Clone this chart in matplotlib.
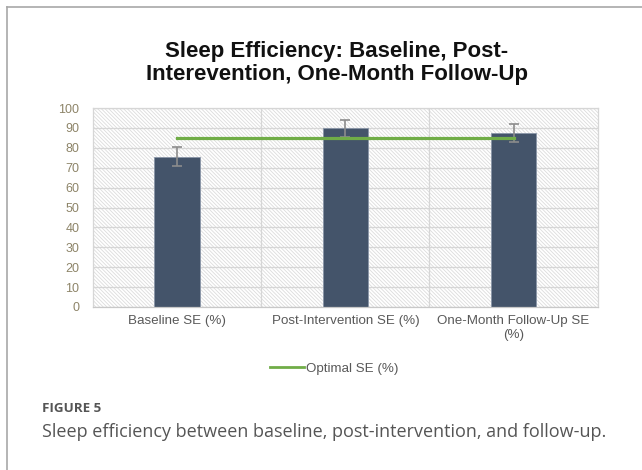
import matplotlib.pyplot as plt
from matplotlib.patches import Rectangle
from matplotlib.lines import Line2D

# === DATA ===
categories = ["Baseline SE (%)", "Post-Intervention SE (%)", "One-Month Follow-Up SE\n(%)"]
se_means = [75.6, 89.8, 87.6]
se_errors = [4.6, 4.2, 4.5]
optimal_se = [85, 85, 85]
y_ticks = list(range(0, 101, 10))

TITLE = "Sleep Efficiency: Baseline, Post-\nInterevention, One-Month Follow-Up"
FIG_LABEL = "FIGURE 5"
CAPTION = "Sleep efficiency between baseline, post-intervention, and follow-up."

plt.rcParams["font.family"] = ["Liberation Sans", "DejaVu Sans"]
plt.rcParams["hatch.linewidth"] = 0.6
plt.rcParams["hatch.color"] = "#dcdcdc"

fig = plt.figure(figsize=(6.42, 4.70), dpi=100)
ax = fig.add_axes([0.145, 0.347, 0.786, 0.423])

# hatched plot background
x = list(range(len(categories)))
ax.set_xlim(-0.5, len(categories) - 0.5)
ax.set_ylim(0, 100)
ax.add_patch(Rectangle((-0.5, 0), len(categories), 100, facecolor="white",
                       edgecolor="#dcdcdc", hatch="\\" * 9, lw=0, zorder=0))

# grid
for t in y_ticks:
    ax.axhline(t, color="#d6d6d6", lw=0.9, zorder=1)
for b in [0.5, 1.5]:
    ax.axvline(b, color="#d6d6d6", lw=0.9, zorder=1)

ax.bar(x, se_means, width=0.27, color="#44546a", edgecolor="#8a96a8", lw=0.6, zorder=2)
ax.errorbar(x, se_means, yerr=se_errors, fmt="none", ecolor="#8c8c8c",
            elinewidth=1.2, capsize=3.5, capthick=1.2, zorder=3)
ax.plot(x, optimal_se, color="#70ad47", lw=2.3, zorder=4, label="Optimal SE (%)")

ax.set_yticks(y_ticks)
ax.set_xticks(x)
ax.set_xticklabels(categories, fontsize=9.6, color="#595959", linespacing=1.15)
ax.tick_params(axis="y", labelsize=9, labelcolor="#8d8468", length=0, pad=10)
ax.tick_params(axis="x", length=0, pad=6)
for s in ax.spines.values():
    s.set_color("#d6d6d6")
    s.set_linewidth(0.9)
ax.spines["bottom"].set_color("#c8c8c8")

fig.text(0.525, 0.866, TITLE, ha="center", va="center", fontsize=16,
         fontweight="bold", color="#111111", linespacing=1.1)

leg_handle = Line2D([], [], color="#70ad47", lw=2)
fig.legend([leg_handle], ["Optimal SE (%)"], loc="center", bbox_to_anchor=(0.52, 0.215),
           frameon=False, fontsize=9.6, labelcolor="#595959",
           handlelength=2.6, handletextpad=0.1)

# caption
fig.text(42 / 642, 1 - 408 / 470, FIG_LABEL, ha="left", va="center",
         fontsize=9.6, fontweight="bold", color="#555555", family=["Open Sans", "DejaVu Sans"])
fig.text(42 / 642, 1 - 432 / 470, CAPTION, ha="left", va="center",
         fontsize=13, color="#555555", family=["Open Sans", "DejaVu Sans"])

# outer border of the chart image
fig.add_artist(Line2D([7 / 642, 1], [1 - 7 / 470, 1 - 7 / 470], color="#a8a8a8", lw=1.2))
fig.add_artist(Line2D([7 / 642, 7 / 642], [0, 1 - 7 / 470], color="#a8a8a8", lw=1.2))

fig.savefig("out.png", dpi=100)
